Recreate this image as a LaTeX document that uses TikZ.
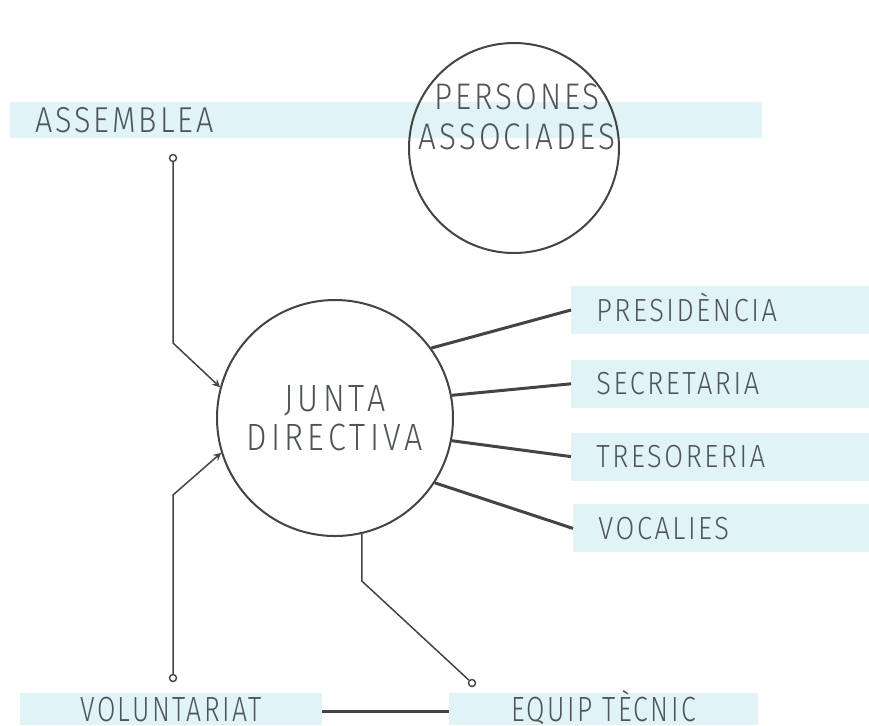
\documentclass[tikz,border=0pt]{standalone}
\usepackage{fontspec}
\setmainfont{Fira Sans Light}[LetterSpace=8, FakeStretch=0.85]
\newfontfamily\narrowfont{Fira Sans Light}[LetterSpace=7, FakeStretch=0.76]
\usepackage{xcolor}
\usepackage{tikz}
\usetikzlibrary{positioning,arrows}

\definecolor{bandblue}{HTML}{E0F4F7}
\definecolor{inkgray}{HTML}{4E5457}
\definecolor{linegray}{HTML}{444444}

\begin{document}
\begin{tikzpicture}[
    x=0.5pt, y=-0.5pt,
    band/.style={fill=bandblue, text=inkgray, inner xsep=12.5pt, inner ysep=0pt},
    sideband/.style={band, anchor=west, text width=125pt, align=left, minimum height=24pt,
        text height=11pt, text depth=0pt, font=\fontsize{16}{18}\selectfont},
    bottomband/.style={band, align=center, minimum height=16pt,
        text height=12pt, text depth=0pt, font=\narrowfont\fontsize{17.5}{19}\selectfont},
    roundnode/.style={circle, draw=linegray, line width=1pt, inner sep=0pt},
    circletext/.style={text=inkgray, align=center, inner sep=0pt},
    enddot/.style={circle, draw=linegray, fill=white, line width=0.7pt, inner sep=0pt, minimum size=3.5pt},
    thinline/.style={draw=linegray, line width=0.75pt},
    thickline/.style={draw=linegray, line width=1.5pt}
    ]
        \useasboundingbox (0,0) rectangle (869,725);

        %Bands
        \node[band, anchor=west, text width=351pt, align=left, minimum height=18pt,
              text height=12.5pt, text depth=0pt, font=\fontsize{18}{20}\selectfont]
            (asm) at (10,120) {ASSEMBLEA};
        \node[roundnode, minimum size=105pt]
            (pers) at (514,148) {};
        \node[circletext, font=\fontsize{18.5}{20}\selectfont]
            (perstext) at (517,117) {PERSONES\\ASSOCIADES};

        %Junta
        \node[roundnode, minimum size=118pt, circletext, draw=linegray,
              font=\fontsize{19}{19.5}\addfontfeature{LetterSpace=11}\selectfont]
            (jd) at (335,418) {JUNTA\\DIRECTIVA};

        \node[sideband] (pres) at (571,310) {PRESIDÈNCIA};
        \node[sideband] (secr) [below=12.5pt of pres] {SECRETARIA};
        \node[sideband] (tres) [below=12pt of secr] {TRESORERIA};
        \node[sideband] (voc)  [below=11.5pt of tres, xshift=1pt] {VOCALIES};

        \node[bottomband, minimum width=151pt]   (vol) at (171,709)   {VOLUNTARIAT};
        \node[bottomband, minimum width=154.5pt] (equip) at (603.5,709) {EQUIP TÈCNIC};

        %Dots
        \node[enddot] (asmdot) at (173,158) {};
        \node[enddot] (voldot) at (173,678) {};
        \node[enddot] (eqdot)  at (472,683) {};

        %Lines
        \draw[->, >=stealth, thinline] (asmdot) -- ++(0,185) -- (jd.165);
        \draw[->, >=stealth, thinline] (voldot) -- ++(0,-183) -- (jd.197);
        \draw[thinline] (jd.-77) -- ++(0,47) -- (eqdot);

        \draw[thickline] (jd.36)  -- (pres.west);
        \draw[thickline] (jd.11)  -- (secr.west);
        \draw[thickline] (jd.-11) -- (tres.west);
        \draw[thickline] (jd.-33) -- (voc.west);
        \draw[thickline] ([yshift=-1pt]vol.east) -- ([yshift=-1pt]equip.west);
    \end{tikzpicture}
\end{document}
